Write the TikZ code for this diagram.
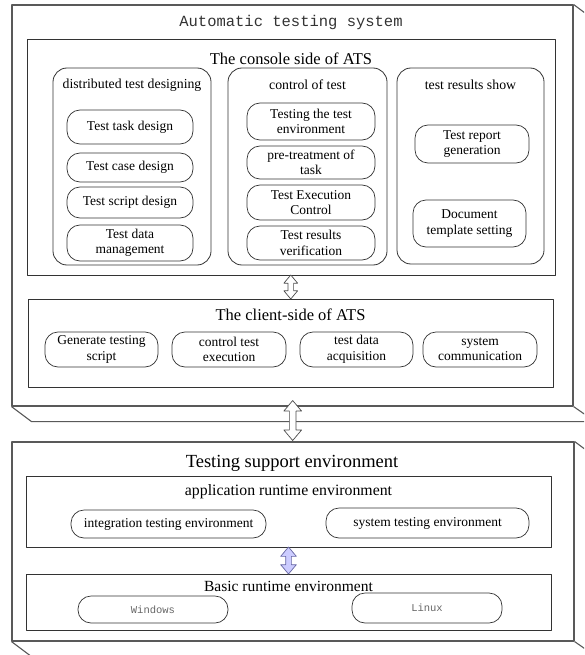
\documentclass[tikz,border=0pt]{standalone}
\usepackage{fontspec}
\setmainfont{Liberation Serif}
\newfontfamily\monofont{Liberation Mono}
\usetikzlibrary{shapes.arrows}

\begin{document}
\begin{tikzpicture}[x=1pt, y=-1pt, line join=round,
    frame/.style={draw=black!65, line width=1.1pt},
    panel/.style={draw=black!80, line width=0.8pt},
    group/.style={draw=black!80, line width=0.8pt, rounded corners=14pt},
    pill/.style={draw=black!80, line width=0.7pt, rounded corners=13pt, align=center, inner sep=0pt, font=\fontsize{13.5}{15.5}\selectfont},
    ospill/.style={pill, text=black!60, font=\monofont\fontsize{10.5}{12}\selectfont},
    heading/.style={inner sep=0pt, font=\fontsize{16.5}{18}\selectfont},
    subheading/.style={inner sep=0pt, font=\fontsize{13.8}{15}\selectfont},
    updown/.style={double arrow, draw=black!70, fill=white, line width=0.7pt, rotate=90, inner sep=2.5pt, double arrow head extend=4pt, double arrow tip angle=80},
]
    \useasboundingbox (0,0) rectangle (584,655);
    \clip (0,0) rectangle (584,655);

    \node[frame, minimum width=561pt, minimum height=401pt] (ats) at (292.5,205.5) {};
    \draw[frame] (ats.north east) -- ++(20,15) -- ++(0,401) -- (ats.south east);
    \draw[frame] (ats.south west) -- ++(20,15) -- ++(561,0);
    \node[inner sep=0pt, text=black!80, font=\monofont\fontsize{15.5}{17}\selectfont] (atstitle) at (291,22) {Automatic testing system};

    \node[panel, minimum width=528pt, minimum height=236pt] (console) at (291,157) {};
    \node[heading] (consoletitle) at (291,59) {The console side of ATS};

    \node[group, minimum width=158pt, minimum height=197pt] (design) at (132,166.5) {};
    \node[subheading] (designtitle) at (132,85) {distributed test designing};
    \node[group, minimum width=159pt, minimum height=197pt] (control) at (307.5,166.5) {};
    \node[subheading] (controltitle) at (307.5,85) {control of test};
    \node[group, minimum width=147pt, minimum height=196pt] (results) at (470.5,166) {};
    \node[subheading] (resultstitle) at (470.5,85) {test results show};

    \node[pill, minimum width=126pt, minimum height=34pt] (taskdes) at (130,127) {Test task design};
    \node[pill, minimum width=126pt, minimum height=29pt] (casedes) at (130,167.5) {Test case design};
    \node[pill, minimum width=126pt, minimum height=31pt] (scriptdes) at (130,202.5) {Test script design};
    \node[pill, minimum width=126pt, minimum height=36pt] (datamgmt) at (130,243) {Test data\\management};

    \node[pill, minimum width=128pt, minimum height=37pt] (envtest) at (311,121.5) {Testing the test\\environment};
    \node[pill, minimum width=128pt, minimum height=33pt] (pretreat) at (311,162.5) {pre-treatment of\\task};
    \node[pill, minimum width=128pt, minimum height=35pt] (execctrl) at (311,202.5) {Test Execution\\Control};
    \node[pill, minimum width=128pt, minimum height=34pt] (verify) at (311,243) {Test results\\verification};

    \node[pill, minimum width=114pt, minimum height=38pt] (report) at (472,144) {Test report\\generation};
    \node[pill, minimum width=113pt, minimum height=47pt] (template) at (469.5,223.5) {Document\\template setting};

    \node[panel, minimum width=525pt, minimum height=88pt] (client) at (290.5,343) {};
    \node[heading] (clienttitle) at (290.5,315) {The client-side of ATS};

    \node[pill, minimum width=113pt, minimum height=35pt] (genscript) at (101.5,349.5) {Generate testing\\script};
    \node[pill, minimum width=114pt, minimum height=35pt] (ctrlexec) at (229,349.5) {control test\\execution};
    \node[pill, minimum width=113pt, minimum height=35pt] (dataacq) at (356.5,349.5) {test data\\acquisition};
    \node[pill, minimum width=114pt, minimum height=35pt] (syscomm) at (480,349.5) {system\\communication};

    \node[frame, minimum width=562pt, minimum height=199pt] (tse) at (293,541.5) {};
    \draw[frame] (tse.north east) -- ++(20,15) -- ++(0,199) -- (tse.south east);
    \draw[frame] (tse.south west) -- ++(20,15) -- ++(562,0);
    \node[inner sep=0pt, font=\fontsize{18.5}{20}\selectfont] (tsetitle) at (292,463) {Testing support environment};

    \node[panel, minimum width=525pt, minimum height=71pt] (app) at (288.5,511.5) {};
    \node[subheading, font=\fontsize{15.8}{17}\selectfont] (apptitle) at (288.5,492) {application runtime environment};
    \node[pill, minimum width=195pt, minimum height=28pt] (integ) at (168.5,524) {integration testing environment};
    \node[pill, minimum width=203pt, minimum height=30pt] (systest) at (427.5,523) {system testing environment};

    \node[panel, minimum width=525pt, minimum height=56pt] (basic) at (288.5,602) {};
    \node[heading, font=\fontsize{15.5}{17}\selectfont] (basictitle) at (288.5,586) {Basic runtime environment};
    \node[ospill, minimum width=150pt, minimum height=27pt] (win) at (153,609.5) {Windows};
    \node[ospill, minimum width=150pt, minimum height=30pt] (linux) at (427,608) {Linux};

    \path (console.south) -- (client.north) node[midway, updown, minimum height=24pt, minimum width=13pt] (consoleclient) {};
    \path (ats.south) -- (tse.north) node[pos=0.4, updown, minimum height=40pt, minimum width=17pt, inner sep=3pt, double arrow head extend=5.5pt] (atstse) {};
    \path (app.south) -- (basic.north) node[midway, updown, draw=blue!40!black!60, fill=blue!20!white, minimum height=27pt, minimum width=15pt, double arrow head extend=5pt] (appbasic) {};
\end{tikzpicture}
\end{document}
